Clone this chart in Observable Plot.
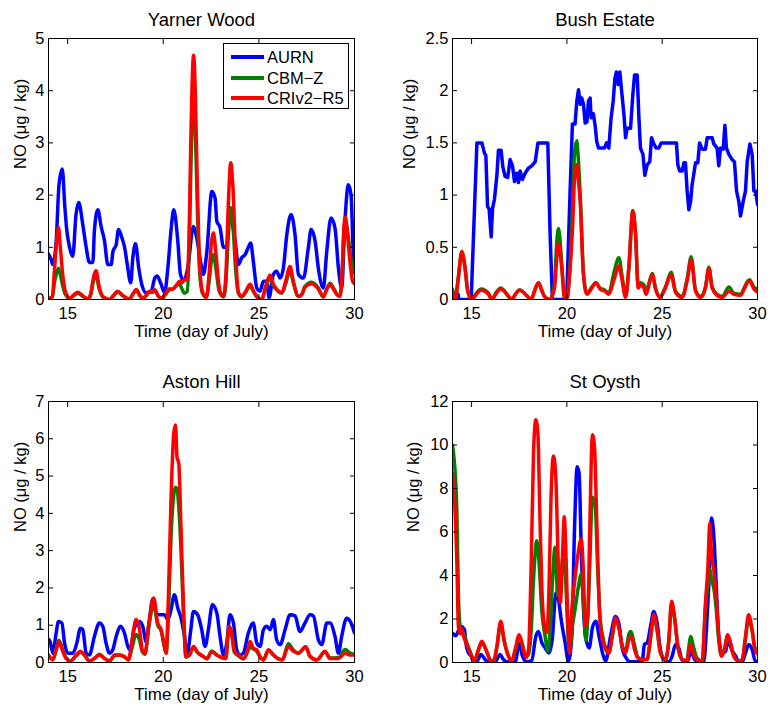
<!DOCTYPE html>
<html><head><meta charset="utf-8">
<script src="https://cdn.jsdelivr.net/npm/d3@7"></script>
<script src="https://cdn.jsdelivr.net/npm/@observablehq/plot@0.6"></script>
<style>
html,body{margin:0;padding:0;background:#fff;}
#chart{position:relative;width:770px;height:706px;font-family:"Liberation Sans",Arial,Helvetica,sans-serif;background:#fff;overflow:hidden;}
#chart svg{position:absolute;}
.legend{position:absolute;left:223px;top:43px;width:124px;height:64px;border:1px solid #000;background:#fff;font-size:16.5px;}
.legend .sw{position:absolute;left:7px;width:33px;height:3.5px;}
.legend .lb{position:absolute;left:43px;line-height:18px;height:18px;}
</style></head><body><div id="chart"></div>
<script>
const xTicks = [15, 20, 25, 30];
const seriesNames = ["AURN", "CBM\u2212Z", "CRIv2\u2212R5"];
const seriesColors = ["#0000ff", "#008000", "#ff0000"];
const titles = ["Yarner Wood", "Bush Estate", "Aston Hill", "St Oysth"];
const xLabel = "Time (day of July)";
const yLabel = "NO (\u03bcg / kg)";

// ---- Yarner Wood ----
const yarnerTicks = [0, 1, 2, 3, 4, 5];
const yarnerAURN = [[14.0,0.87],[14.15,0.75],[14.22,0.67],[14.4,1.1],[14.55,2.2],[14.72,2.5],[14.85,1.8],[14.95,1.35],[15.1,1.0],[15.27,0.83],[15.44,1.63],[15.58,1.86],[15.79,1.44],[15.97,1.0],[16.14,0.71],[16.32,0.71],[16.4,1.32],[16.58,1.72],[16.75,1.4],[16.93,1.12],[17.1,0.67],[17.28,0.67],[17.37,0.92],[17.54,1.05],[17.66,1.34],[17.84,1.18],[17.98,1.0],[18.12,0.67],[18.3,0.32],[18.41,0.8],[18.55,1.07],[18.72,0.6],[18.9,0.26],[19.11,0.13],[19.37,0.16],[19.55,0.4],[19.68,0.45],[19.86,0.32],[20.07,0.13],[20.24,0.6],[20.4,1.3],[20.55,1.72],[20.76,1.12],[20.9,0.48],[21.08,0.36],[21.28,0.6],[21.58,1.4],[21.72,1.24],[21.98,0.67],[22.1,0.48],[22.28,0.92],[22.54,2.07],[22.71,1.94],[22.8,1.5],[22.97,1.38],[23.15,1.0],[23.3,1.0],[23.5,1.76],[23.6,1.5],[23.76,1.12],[23.93,0.67],[24.1,0.8],[24.28,0.86],[24.45,1.0],[24.57,1.08],[24.71,0.73],[24.89,0.22],[25.06,0.16],[25.24,0.35],[25.42,0.35],[25.53,0.03],[25.76,0.48],[25.93,0.54],[26.11,0.41],[26.28,0.6],[26.46,1.24],[26.68,1.63],[26.89,1.24],[27.07,0.48],[27.33,0.41],[27.59,1.0],[27.73,1.34],[27.94,1.12],[28.11,0.6],[28.37,0.22],[28.55,0.92],[28.77,1.56],[28.98,1.37],[29.16,0.6],[29.33,0.22],[29.5,1.5],[29.68,2.2],[29.82,2.0],[29.94,0.86],[30.0,0.6]];
const yarnerCBM = [[14.0,0.02],[14.2,0.05],[14.3,0.3],[14.42,0.5],[14.52,0.6],[14.62,0.48],[14.75,0.25],[14.85,0.12],[15.0,0.04],[15.1,0.02],[15.3,0.07],[15.53,0.12],[15.8,0.06],[16.05,0.01],[16.2,0.08],[16.32,0.3],[16.49,0.48],[16.62,0.25],[16.8,0.07],[17.0,0.02],[17.19,0.0],[17.4,0.07],[17.62,0.14],[17.85,0.08],[18.05,0.03],[18.24,0.01],[18.4,0.09],[18.59,0.17],[18.78,0.07],[18.94,0.02],[19.1,0.07],[19.28,0.14],[19.45,0.14],[19.54,0.17],[19.8,0.04],[19.95,0.03],[20.1,0.09],[20.3,0.18],[20.5,0.2],[20.7,0.27],[20.85,0.3],[20.98,0.2],[21.1,0.12],[21.25,0.15],[21.35,0.9],[21.45,2.6],[21.55,3.7],[21.59,3.8],[21.68,3.2],[21.78,1.8],[21.9,0.55],[22.05,0.12],[22.25,0.04],[22.4,0.35],[22.52,0.75],[22.62,0.86],[22.75,0.6],[22.9,0.2],[23.0,0.1],[23.15,0.05],[23.28,0.35],[23.4,1.2],[23.53,1.76],[23.65,1.4],[23.78,0.6],[23.93,0.12],[24.1,0.05],[24.3,0.13],[24.54,0.26],[24.7,0.16],[24.89,0.05],[25.15,0.0],[25.35,0.22],[25.59,0.42],[25.75,0.28],[25.93,0.18],[26.2,0.12],[26.4,0.3],[26.63,0.55],[26.8,0.32],[27.07,0.06],[27.25,0.1],[27.41,0.25],[27.76,0.33],[28.11,0.22],[28.37,0.05],[28.55,0.2],[28.72,0.31],[28.9,0.22],[29.07,0.1],[29.24,0.06],[29.35,0.45],[29.45,1.3],[29.52,1.5],[29.62,1.35],[29.77,0.9],[29.9,0.6],[30.0,0.5]];
const yarnerCRI = [[14.0,0.02],[14.2,0.05],[14.3,0.5],[14.42,1.1],[14.52,1.38],[14.62,1.0],[14.75,0.45],[14.85,0.2],[15.0,0.05],[15.1,0.02],[15.3,0.08],[15.53,0.14],[15.8,0.07],[16.05,0.01],[16.2,0.1],[16.32,0.36],[16.49,0.55],[16.62,0.3],[16.8,0.08],[17.0,0.02],[17.19,0.0],[17.4,0.08],[17.62,0.16],[17.85,0.09],[18.05,0.03],[18.24,0.01],[18.4,0.1],[18.59,0.19],[18.78,0.08],[18.94,0.02],[19.1,0.08],[19.28,0.16],[19.45,0.16],[19.54,0.19],[19.8,0.04],[19.95,0.03],[20.1,0.1],[20.3,0.2],[20.5,0.2],[20.7,0.28],[20.85,0.35],[20.98,0.32],[21.1,0.38],[21.25,0.38],[21.35,1.2],[21.45,3.2],[21.55,4.55],[21.59,4.68],[21.68,3.9],[21.78,2.2],[21.9,0.7],[22.05,0.15],[22.25,0.04],[22.4,0.5],[22.52,1.1],[22.62,1.28],[22.75,0.9],[22.9,0.3],[23.0,0.12],[23.15,0.06],[23.28,0.5],[23.4,1.8],[23.53,2.62],[23.65,2.1],[23.78,0.9],[23.93,0.14],[24.1,0.06],[24.3,0.15],[24.54,0.29],[24.7,0.18],[24.89,0.06],[25.15,0.0],[25.35,0.25],[25.59,0.47],[25.75,0.3],[25.93,0.2],[26.2,0.13],[26.4,0.35],[26.63,0.63],[26.8,0.35],[27.07,0.06],[27.25,0.1],[27.41,0.24],[27.76,0.3],[28.11,0.2],[28.37,0.05],[28.55,0.2],[28.72,0.29],[28.9,0.2],[29.07,0.1],[29.24,0.06],[29.35,0.5],[29.45,1.4],[29.52,1.58],[29.62,1.3],[29.77,0.7],[29.9,0.35],[30.0,0.3]];

// ---- Bush Estate ----
const bushTicks = [0, 0.5, 1, 1.5, 2, 2.5];
const bushAURN = [[14.0,0.05],[14.3,0.05],[14.32,0.0],[14.98,0.0],[15.28,1.5],[15.54,1.5],[15.68,1.4],[15.75,1.38],[15.84,0.89],[15.92,0.87],[16.03,0.6],[16.1,0.87],[16.2,0.96],[16.33,1.19],[16.41,1.43],[16.55,1.43],[16.64,1.27],[16.76,1.18],[16.9,1.17],[17.02,1.34],[17.15,1.28],[17.25,1.13],[17.37,1.21],[17.46,1.12],[17.55,1.23],[17.67,1.15],[17.81,1.21],[17.99,1.26],[18.16,1.28],[18.34,1.32],[18.48,1.5],[19.0,1.5],[19.12,0.63],[19.24,0.0],[19.99,0.0],[20.17,1.04],[20.29,1.68],[20.43,1.68],[20.52,1.9],[20.61,2.01],[20.7,1.87],[20.78,1.93],[20.87,1.87],[20.96,1.69],[21.05,1.7],[21.13,1.9],[21.22,1.93],[21.27,1.74],[21.39,1.78],[21.48,1.67],[21.57,1.51],[21.66,1.45],[21.97,1.45],[22.08,1.5],[22.2,1.45],[22.32,1.74],[22.43,1.9],[22.52,2.12],[22.6,2.18],[22.69,2.06],[22.78,2.18],[22.87,2.0],[22.99,1.78],[23.08,1.55],[23.16,1.64],[23.34,1.64],[23.46,1.96],[23.55,2.15],[23.69,2.15],[23.78,1.74],[23.86,1.45],[23.99,1.39],[24.09,1.19],[24.21,1.29],[24.35,1.32],[24.44,1.55],[24.56,1.49],[24.69,1.45],[24.82,1.45],[24.95,1.5],[25.75,1.5],[25.82,1.29],[25.92,1.23],[26.05,1.23],[26.14,1.31],[26.22,1.31],[26.31,1.04],[26.4,0.86],[26.49,0.94],[26.57,1.1],[26.75,1.31],[26.87,1.31],[26.96,1.5],[27.1,1.44],[27.27,1.44],[27.36,1.55],[27.62,1.55],[27.71,1.49],[27.88,1.45],[27.97,1.28],[28.06,1.45],[28.2,1.44],[28.29,1.67],[28.37,1.45],[28.5,1.39],[28.67,1.34],[28.79,1.32],[28.9,1.04],[29.02,0.94],[29.11,0.8],[29.25,0.94],[29.37,1.04],[29.46,1.32],[29.6,1.49],[29.72,1.39],[29.81,1.04],[29.9,1.04],[30.0,0.91]];
const bushCBM = [[14.0,0.1],[14.14,0.0],[14.3,0.2],[14.49,0.45],[14.66,0.3],[14.8,0.08],[15.01,0.0],[15.25,0.06],[15.5,0.1],[15.89,0.06],[16.06,0.0],[16.3,0.07],[16.53,0.11],[16.94,0.03],[17.11,0.0],[17.3,0.05],[17.51,0.09],[17.99,0.02],[18.13,0.0],[18.3,0.08],[18.51,0.16],[18.7,0.08],[18.86,0.02],[19.12,0.0],[19.35,0.15],[19.47,0.55],[19.56,0.68],[19.73,0.35],[19.87,0.03],[19.99,0.0],[20.17,0.35],[20.3,0.9],[20.4,1.4],[20.52,1.52],[20.6,1.35],[20.7,1.0],[20.87,0.25],[21.05,0.06],[21.31,0.12],[21.52,0.16],[21.74,0.11],[22.0,0.09],[22.2,0.06],[22.46,0.25],[22.73,0.4],[22.9,0.22],[23.08,0.03],[23.25,0.3],[23.46,0.85],[23.6,0.63],[23.74,0.14],[23.86,0.16],[24.04,0.14],[24.16,0.06],[24.3,0.15],[24.48,0.25],[24.65,0.11],[24.88,0.03],[25.17,0.12],[25.47,0.26],[25.7,0.08],[26.05,0.03],[26.31,0.2],[26.52,0.41],[26.75,0.09],[27.01,0.03],[27.27,0.12],[27.45,0.31],[27.62,0.12],[27.88,0.05],[28.15,0.03],[28.5,0.12],[28.76,0.06],[29.11,0.05],[29.3,0.11],[29.46,0.17],[29.58,0.19],[29.81,0.12],[30.0,0.1]];
const bushCRI = [[14.0,0.08],[14.14,0.0],[14.3,0.2],[14.49,0.46],[14.66,0.3],[14.8,0.08],[15.01,0.0],[15.25,0.05],[15.5,0.09],[15.89,0.05],[16.06,0.0],[16.3,0.06],[16.53,0.1],[16.94,0.03],[17.11,0.0],[17.3,0.05],[17.51,0.09],[17.99,0.02],[18.13,0.0],[18.3,0.08],[18.51,0.16],[18.7,0.08],[18.86,0.02],[19.12,0.0],[19.35,0.11],[19.47,0.4],[19.56,0.54],[19.73,0.3],[19.87,0.02],[19.99,0.0],[20.17,0.3],[20.3,0.7],[20.4,1.15],[20.52,1.29],[20.6,1.15],[20.7,0.94],[20.87,0.24],[21.05,0.05],[21.31,0.11],[21.52,0.16],[21.74,0.1],[22.0,0.08],[22.2,0.05],[22.46,0.18],[22.73,0.32],[22.9,0.18],[23.08,0.02],[23.25,0.3],[23.46,0.85],[23.6,0.63],[23.74,0.11],[23.86,0.14],[24.04,0.11],[24.16,0.05],[24.3,0.14],[24.48,0.24],[24.65,0.1],[24.88,0.02],[25.17,0.11],[25.47,0.24],[25.7,0.07],[26.05,0.02],[26.31,0.18],[26.52,0.38],[26.75,0.08],[27.01,0.02],[27.27,0.11],[27.45,0.3],[27.62,0.11],[27.88,0.04],[28.15,0.02],[28.5,0.08],[28.76,0.05],[29.11,0.04],[29.3,0.1],[29.46,0.16],[29.58,0.18],[29.81,0.1],[30.0,0.07]];

// ---- Aston Hill ----
const astonTicks = [0, 1, 2, 3, 4, 5, 6, 7];
const astonAURN = [[14.0,0.61],[14.05,0.61],[14.23,0.25],[14.4,0.79],[14.52,1.1],[14.7,1.06],[14.84,0.52],[15.01,0.25],[15.27,0.25],[15.48,0.52],[15.67,0.92],[15.79,0.88],[15.97,0.25],[16.14,0.2],[16.4,0.7],[16.66,1.06],[16.84,0.97],[17.01,0.52],[17.19,0.25],[17.36,0.34],[17.54,0.7],[17.76,0.97],[17.97,0.79],[18.15,0.43],[18.28,0.34],[18.46,0.88],[18.76,1.1],[18.93,0.97],[19.1,0.56],[19.28,1.15],[19.45,1.7],[19.63,1.33],[19.8,1.28],[20.06,1.28],[20.24,1.15],[20.41,1.42],[20.58,1.82],[20.76,1.46],[20.93,1.19],[21.11,0.7],[21.25,0.2],[21.42,0.79],[21.58,1.37],[21.8,1.28],[22.01,0.88],[22.19,0.43],[22.36,0.88],[22.57,1.55],[22.8,1.33],[22.97,0.7],[23.15,0.2],[23.32,0.52],[23.49,1.28],[23.67,1.06],[23.84,0.34],[24.02,0.2],[24.19,0.25],[24.45,0.79],[24.71,1.06],[24.89,0.52],[25.06,0.43],[25.24,0.88],[25.41,0.97],[25.59,0.88],[25.76,1.15],[25.93,0.61],[26.11,0.48],[26.37,0.88],[26.63,1.28],[26.89,1.25],[27.15,0.83],[27.41,1.06],[27.68,1.28],[27.85,1.25],[28.11,0.61],[28.29,0.48],[28.55,1.06],[28.72,1.06],[28.98,0.7],[29.16,0.25],[29.33,0.7],[29.59,1.19],[29.82,1.06],[30.0,0.79]];
const astonCBM = [[14.0,0.2],[14.23,0.07],[14.4,0.36],[14.54,0.6],[14.75,0.32],[14.92,0.12],[15.15,0.04],[15.45,0.18],[15.67,0.28],[15.88,0.2],[16.14,0.04],[16.4,0.11],[16.66,0.22],[16.93,0.11],[17.19,0.04],[17.45,0.18],[17.71,0.2],[17.97,0.15],[18.18,0.07],[18.35,0.35],[18.58,0.75],[18.76,0.6],[18.9,0.3],[19.05,0.22],[19.23,0.9],[19.5,1.55],[19.71,1.0],[19.89,0.85],[20.03,0.5],[20.15,0.25],[20.27,1.3],[20.41,3.4],[20.55,4.5],[20.64,4.7],[20.72,4.65],[20.81,4.2],[20.93,3.0],[21.07,1.1],[21.19,0.14],[21.37,0.2],[21.58,0.4],[21.8,0.26],[22.1,0.16],[22.28,0.1],[22.54,0.31],[22.8,0.2],[23.06,0.13],[23.27,0.11],[23.44,0.95],[23.58,0.75],[23.72,0.28],[23.93,0.18],[24.19,0.1],[24.42,0.3],[24.54,0.42],[24.71,0.36],[24.89,0.3],[25.06,0.15],[25.24,0.07],[25.5,0.33],[25.76,0.2],[26.02,0.1],[26.23,0.08],[26.54,0.5],[26.81,0.33],[27.07,0.25],[27.45,0.4],[27.68,0.16],[28.03,0.07],[28.46,0.28],[28.72,0.12],[29.16,0.13],[29.51,0.35],[29.77,0.25],[30.0,0.22]];
const astonCRI = [[14.0,0.2],[14.23,0.07],[14.4,0.34],[14.54,0.56],[14.75,0.3],[14.92,0.11],[15.15,0.04],[15.45,0.2],[15.67,0.3],[15.88,0.2],[16.14,0.04],[16.4,0.11],[16.66,0.2],[16.93,0.11],[17.19,0.04],[17.45,0.2],[17.71,0.2],[17.97,0.16],[18.18,0.07],[18.35,0.52],[18.58,1.15],[18.76,0.88],[18.9,0.34],[19.05,0.25],[19.23,0.97],[19.5,1.73],[19.71,1.06],[19.89,0.88],[20.03,0.52],[20.15,0.25],[20.27,1.77],[20.41,4.45],[20.55,6.15],[20.64,6.37],[20.72,5.5],[20.81,5.35],[20.93,3.56],[21.07,1.33],[21.19,0.16],[21.37,0.2],[21.58,0.43],[21.8,0.27],[22.1,0.16],[22.28,0.1],[22.54,0.29],[22.8,0.2],[23.06,0.13],[23.27,0.11],[23.44,0.97],[23.58,0.79],[23.72,0.3],[23.93,0.2],[24.19,0.1],[24.42,0.34],[24.54,0.56],[24.71,0.38],[24.89,0.34],[25.06,0.16],[25.24,0.07],[25.5,0.34],[25.76,0.2],[26.02,0.1],[26.23,0.07],[26.54,0.43],[26.81,0.3],[27.07,0.25],[27.45,0.43],[27.68,0.16],[28.03,0.07],[28.46,0.3],[28.72,0.11],[29.16,0.11],[29.51,0.25],[29.77,0.2],[30.0,0.2]];

// ---- St Oysth ----
const oysthTicks = [0, 2, 4, 6, 8, 10, 12];
const oysthAURN = [[14.0,1.35],[14.17,1.23],[14.31,1.45],[14.45,1.66],[14.63,1.5],[14.7,0.9],[14.84,0.44],[14.98,0.29],[15.1,0.06],[15.28,0.06],[15.5,0.37],[15.71,0.14],[15.89,0.03],[16.24,0.03],[16.5,0.37],[16.67,0.14],[16.85,0.03],[17.29,0.03],[17.5,0.87],[17.67,0.29],[17.9,0.03],[18.16,0.1],[18.37,1.2],[18.51,1.43],[18.69,0.9],[18.86,0.67],[19.07,0.44],[19.24,1.13],[19.42,3.19],[19.56,2.9],[19.7,1.98],[19.91,0.9],[20.08,0.06],[20.26,1.2],[20.4,6.1],[20.54,9.0],[20.64,8.7],[20.75,5.4],[20.87,2.5],[20.99,1.13],[21.17,0.67],[21.34,1.6],[21.52,1.9],[21.69,1.2],[21.87,0.44],[22.03,0.06],[22.29,1.2],[22.55,2.12],[22.73,1.8],[22.9,0.67],[23.16,0.14],[23.34,0.03],[23.95,0.03],[24.07,0.83],[24.21,0.9],[24.39,1.66],[24.56,2.35],[24.74,1.8],[24.88,0.75],[25.09,0.14],[25.35,0.03],[25.52,0.29],[25.7,0.83],[25.87,0.67],[26.05,0.1],[26.31,0.03],[26.52,0.52],[26.7,0.14],[26.92,0.03],[27.18,0.03],[27.32,1.49],[27.45,3.64],[27.59,6.64],[27.71,5.8],[27.83,3.64],[27.97,1.2],[28.15,0.44],[28.32,0.5],[28.46,1.05],[28.64,0.6],[28.85,0.3],[29.02,0.03],[29.2,0.03],[29.37,0.44],[29.54,0.83],[29.72,0.6],[29.89,0.05],[30.0,0.05]];
const oysthCBM = [[14.0,10.0],[14.1,9.2],[14.23,6.9],[14.31,3.1],[14.4,1.66],[14.45,1.5],[14.58,1.35],[14.75,0.9],[14.93,0.5],[15.15,0.08],[15.36,0.55],[15.54,0.9],[15.75,0.6],[15.98,0.12],[16.15,0.06],[16.33,0.7],[16.53,1.8],[16.71,1.0],[16.9,0.37],[17.11,0.06],[17.29,0.55],[17.5,1.2],[17.67,0.8],[17.85,0.25],[17.99,0.4],[18.13,1.5],[18.25,3.8],[18.42,5.6],[18.54,4.6],[18.69,2.3],[18.86,1.2],[19.0,0.52],[19.12,1.5],[19.24,3.68],[19.38,5.3],[19.52,3.07],[19.65,3.37],[19.82,5.05],[19.94,3.68],[20.05,1.5],[20.14,0.44],[20.29,1.66],[20.43,2.45],[20.61,3.52],[20.75,4.06],[20.87,2.75],[21.0,1.0],[21.17,3.68],[21.34,7.6],[21.48,7.3],[21.62,4.26],[21.74,2.1],[21.92,1.05],[22.04,0.6],[22.2,0.44],[22.38,1.2],[22.55,2.0],[22.73,1.6],[22.9,0.8],[23.08,0.5],[23.25,1.3],[23.35,1.43],[23.55,0.8],[23.72,0.25],[23.95,0.14],[24.21,0.14],[24.39,1.1],[24.56,2.1],[24.74,1.45],[24.91,0.44],[25.17,0.14],[25.35,1.0],[25.49,2.65],[25.65,2.0],[25.82,0.75],[26.05,0.14],[26.28,0.08],[26.5,1.2],[26.62,0.8],[26.83,0.2],[27.1,0.06],[27.27,2.5],[27.39,3.5],[27.5,4.3],[27.59,3.8],[27.71,3.4],[27.83,2.5],[27.97,1.0],[28.11,0.3],[28.27,0.6],[28.44,1.25],[28.58,0.9],[28.76,0.3],[29.02,0.06],[29.2,0.14],[29.37,1.1],[29.53,2.0],[29.72,1.45],[29.86,0.7],[30.0,0.45]];
const oysthCRI = [[14.0,8.7],[14.1,7.6],[14.23,4.57],[14.31,1.66],[14.4,1.32],[14.45,1.6],[14.58,1.2],[14.75,0.83],[14.93,0.44],[15.15,0.06],[15.36,0.6],[15.54,0.98],[15.75,0.6],[15.98,0.12],[16.15,0.06],[16.33,0.75],[16.53,1.9],[16.71,1.0],[16.9,0.37],[17.11,0.06],[17.29,0.6],[17.5,1.28],[17.67,0.8],[17.85,0.22],[17.99,0.6],[18.13,4.57],[18.25,9.62],[18.37,11.16],[18.48,10.55],[18.58,6.9],[18.69,3.37],[18.82,1.69],[18.95,1.38],[19.07,3.68],[19.17,7.6],[19.3,9.5],[19.42,8.5],[19.56,4.26],[19.66,2.75],[19.77,4.9],[19.86,6.7],[19.94,5.35],[20.05,1.84],[20.14,0.44],[20.26,2.45],[20.4,3.68],[20.57,4.9],[20.75,5.67],[20.87,4.1],[20.96,1.69],[21.1,2.1],[21.2,6.1],[21.34,10.47],[21.45,9.9],[21.57,6.4],[21.69,2.75],[21.83,1.2],[22.03,0.67],[22.2,0.44],[22.38,1.2],[22.55,2.05],[22.73,1.6],[22.9,0.75],[23.08,0.44],[23.25,1.05],[23.37,1.2],[23.55,0.6],[23.72,0.21],[23.95,0.14],[24.21,0.14],[24.39,1.2],[24.56,2.2],[24.74,1.49],[24.91,0.44],[25.17,0.14],[25.35,1.05],[25.49,2.82],[25.65,2.1],[25.82,0.75],[26.05,0.14],[26.28,0.06],[26.48,0.83],[26.62,0.44],[26.83,0.12],[27.1,0.06],[27.27,2.75],[27.39,4.26],[27.5,6.4],[27.59,4.9],[27.71,4.26],[27.83,3.07],[27.97,1.2],[28.11,0.29],[28.27,0.6],[28.44,1.28],[28.58,0.9],[28.76,0.29],[29.02,0.06],[29.2,0.14],[29.37,1.2],[29.53,2.2],[29.72,1.49],[29.86,0.6],[30.0,0.4]];

const FONT = '"Liberation Sans", Arial, Helvetica, sans-serif';
const chart = document.getElementById("chart");

function panel(cfg) {
  const xy = {x: d => d[0], y: d => d[1]};
  const lineOpts = {strokeWidth: 3.5, strokeLinejoin: "round", strokeLinecap: "round", clip: true};
  const fmt = d => String(d);
  const blank = () => "";
  const svg = Plot.plot({
    width: cfg.width, height: cfg.height,
    marginLeft: cfg.mL, marginRight: cfg.mR, marginTop: cfg.mT, marginBottom: cfg.mB,
    style: {fontFamily: FONT, fontSize: "16.5px", color: "#000", background: "transparent", overflow: "visible"},
    x: {domain: [14, 30], axis: null},
    y: {domain: [0, cfg.ticks[cfg.ticks.length - 1]], axis: null},
    marks: [
      Plot.line(cfg.series[0], {...xy, ...lineOpts, stroke: seriesColors[0], curve: cfg.blueCurve}),
      Plot.line(cfg.series[1], {...xy, ...lineOpts, stroke: seriesColors[1], curve: "monotone-x"}),
      Plot.line(cfg.series[2], {...xy, ...lineOpts, stroke: seriesColors[2], curve: "monotone-x"}),
      Plot.frame({stroke: "#000", strokeWidth: 1}),
      Plot.axisX(xTicks, {anchor: "bottom", tickSize: -5, tickFormat: blank, label: null}),
      Plot.axisX(xTicks, {anchor: "top", tickSize: -5, tickFormat: blank, label: null}),
      Plot.axisX(xTicks, {anchor: "bottom", tickSize: 0, tickPadding: 8, tickFormat: fmt, label: null}),
      Plot.axisY(cfg.ticks, {anchor: "left", tickSize: -5, tickFormat: blank, label: null}),
      Plot.axisY(cfg.ticks, {anchor: "right", tickSize: -5, tickFormat: blank, label: null}),
      Plot.axisY(cfg.ticks, {anchor: "left", tickSize: 0, tickPadding: 4, tickFormat: fmt, label: null}),
      Plot.text([cfg.title], {text: d => d, frameAnchor: "top", dy: cfg.titleDy, lineAnchor: "bottom", fontSize: 18.5}),
      Plot.text([xLabel], {text: d => d, frameAnchor: "bottom", dy: 37, lineAnchor: "bottom", fontSize: 17}),
      Plot.text([yLabel], {text: d => d, frameAnchor: "left", dx: cfg.yDx, rotate: -90, lineAnchor: "middle", fontSize: 16.5})
    ]
  });
  svg.style.left = cfg.left + "px";
  svg.style.top = cfg.top + "px";
  chart.appendChild(svg);
}

panel({series: [yarnerAURN, yarnerCBM, yarnerCRI], ticks: yarnerTicks, title: titles[0], blueCurve: "monotone-x",
  left: 0, top: 0, width: 385, height: 353, mL: 48, mR: 31, mT: 38, mB: 54, titleDy: -13, yDx: -28});
panel({series: [bushAURN, bushCBM, bushCRI], ticks: bushTicks, title: titles[1], blueCurve: "linear",
  left: 385, top: 0, width: 385, height: 353, mL: 67, mR: 13, mT: 38, mB: 54, titleDy: -13, yDx: -43});
panel({series: [astonAURN, astonCBM, astonCRI], ticks: astonTicks, title: titles[2], blueCurve: "monotone-x",
  left: 0, top: 353, width: 385, height: 353, mL: 48, mR: 31, mT: 48, mB: 44, titleDy: -14, yDx: -28});
panel({series: [oysthAURN, oysthCBM, oysthCRI], ticks: oysthTicks, title: titles[3], blueCurve: "monotone-x",
  left: 385, top: 353, width: 385, height: 353, mL: 67, mR: 13, mT: 48, mB: 44, titleDy: -14, yDx: -39});

// legend (Yarner Wood panel)
const legend = document.createElement("div");
legend.className = "legend";
const rowCenters = [13, 34, 54];
seriesNames.forEach((name, i) => {
  const sw = document.createElement("div");
  sw.className = "sw";
  sw.style.background = seriesColors[i];
  sw.style.top = (rowCenters[i] - 1.75) + "px";
  const lb = document.createElement("div");
  lb.className = "lb";
  lb.textContent = name;
  lb.style.top = (rowCenters[i] - 9) + "px";
  legend.appendChild(sw);
  legend.appendChild(lb);
});
chart.appendChild(legend);
</script></body></html>
